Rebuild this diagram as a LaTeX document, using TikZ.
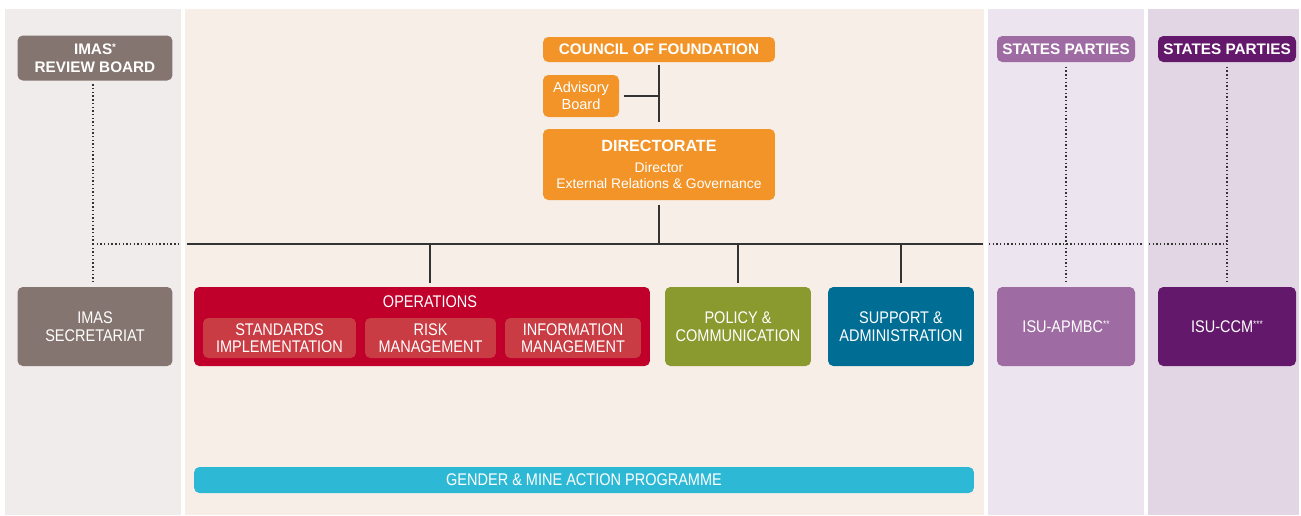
\documentclass[tikz,border=0pt]{standalone}
\usepackage{fontspec}
\setmainfont{Liberation Sans}
\newfontfamily\condfont{Liberation Sans}[FakeStretch=0.86]
\definecolor{panelgrey}{HTML}{F0ECEB}
\definecolor{panelpeach}{HTML}{F7EEE8}
\definecolor{panellilac}{HTML}{ECE4EF}
\definecolor{panelplum}{HTML}{E2D6E5}
\definecolor{imasgrey}{HTML}{857570}
\definecolor{gicorange}{HTML}{F29428}
\definecolor{opsred}{HTML}{C0002A}
\definecolor{opssub}{HTML}{C93C43}
\definecolor{polgreen}{HTML}{8A9A2F}
\definecolor{supblue}{HTML}{006D95}
\definecolor{apmbc}{HTML}{9E6BA3}
\definecolor{ccm}{HTML}{64186B}
\definecolor{gendercyan}{HTML}{2DB9D5}
\definecolor{lnk}{HTML}{333333}
\newcommand{\sups}[1]{\raisebox{2.5pt}{\fontsize{5.5}{5.5}\selectfont #1}}
\begin{document}
\begin{tikzpicture}[x=0.02cm,y=-0.02cm,
    box/.style={rounded corners=3pt, text=white, align=center, inner sep=0pt},
    headbox/.style={box, font=\bfseries\fontsize{8.7}{9.8}\selectfont},
    unitbox/.style={box, font=\condfont\fontsize{9.6}{10.4}\selectfont, minimum height=1.58cm},
    subbox/.style={box, fill=opssub, font=\condfont\fontsize{9.6}{9.8}\selectfont, minimum height=0.8cm},
    conn/.style={draw=lnk, line width=0.6pt},
    dotconn/.style={draw=lnk, line width=0.8pt, dash pattern=on 0.8pt off 1.3pt}]
  \useasboundingbox (0,0) rectangle (1301,515);
  \fill[panelgrey] (5,9) rectangle (181,515);
  \fill[panelpeach] (185,9) rectangle (984,515);
  \fill[panellilac] (988,9) rectangle (1144,515);
  \fill[panelplum] (1148,9) rectangle (1299,515);

  \node[headbox, fill=imasgrey, minimum width=3.1cm, minimum height=0.9cm] (reviewboard) at (95,58) {IMAS\sups{*}\\REVIEW BOARD};
  \node[headbox, fill=gicorange, minimum width=4.64cm, minimum height=0.5cm] (council) at (659,49.5) {COUNCIL OF FOUNDATION};
  \node[box, fill=gicorange, font=\fontsize{8.3}{9.4}\selectfont, minimum width=1.52cm, minimum height=0.84cm] (advisory) at (581,96) {Advisory\\Board};
  \node[box, fill=gicorange, font=\fontsize{7.9}{9.2}\selectfont, minimum width=4.64cm, minimum height=1.42cm] (directorate) at (659,164.5)
    {{\bfseries\fontsize{9.2}{11}\selectfont DIRECTORATE}\\[3pt]Director\\External Relations \& Governance};
  \node[headbox, fill=apmbc, minimum width=2.76cm, minimum height=0.52cm] (statesA) at (1066,49) {STATES PARTIES};
  \node[headbox, fill=ccm, minimum width=2.76cm, minimum height=0.52cm] (statesB) at (1227,49) {STATES PARTIES};

  \node[unitbox, fill=imasgrey, minimum width=3.1cm] (secretariat) at (95,326.5) {IMAS\\SECRETARIAT};
  \node[box, fill=opsred, minimum width=9.12cm, minimum height=1.58cm] (ops) at (422,326.5) {};
  \node[box, font=\condfont\fontsize{9.6}{10}\selectfont] (opstitle) at (430,302) {OPERATIONS};
  \node[subbox, minimum width=3.06cm] (standards) at (279.5,338) {STANDARDS\\IMPLEMENTATION};
  \node[subbox, minimum width=2.62cm] (risk) at (430.5,338) {RISK\\MANAGEMENT};
  \node[subbox, minimum width=2.72cm] (information) at (573,338) {INFORMATION\\MANAGEMENT};
  \node[unitbox, fill=polgreen, minimum width=2.92cm] (policy) at (738,326.5) {POLICY \&\\COMMUNICATION};
  \node[unitbox, fill=supblue, minimum width=2.92cm] (support) at (901,326.5) {SUPPORT \&\\ADMINISTRATION};
  \node[unitbox, fill=apmbc, minimum width=2.76cm] (isuA) at (1066,326.5) {ISU-APMBC\sups{**}};
  \node[unitbox, fill=ccm, minimum width=2.76cm] (isuB) at (1227,326.5) {ISU-CCM\sups{***}};
  \node[box, fill=gendercyan, font=\condfont\fontsize{9.6}{10}\selectfont, minimum width=15.6cm, minimum height=0.52cm] (gender) at (584,480) {GENDER \& MINE ACTION PROGRAMME};

  \coordinate (busL) at (187,244);
  \coordinate (busR) at (983,244);
  \coordinate (gapL) at (181,244);
  \coordinate (gapA) at (989,244);
  \coordinate (gapB) at (1143,244);
  \coordinate (gapC) at (1149,244);
  \coordinate (imasdots) at (93,244);

  \draw[conn, shorten <=1.5pt, shorten >=4pt] (council) -- (directorate);
  \draw[conn, shorten <=2.5pt] (advisory.east) -- (advisory.east -| council.south);
  \draw[conn] (busL) -- (busR);
  \draw[conn, shorten <=2.5pt] (directorate.south) -- (directorate.south |- busL);
  \draw[conn, shorten >=2.3pt] (opstitle |- busL) -- (opstitle |- ops.north);
  \draw[conn, shorten >=2.3pt] (policy.north |- busL) -- (policy.north);
  \draw[conn, shorten >=2.3pt] (support.north |- busL) -- (support.north);

  \draw[dotconn, shorten <=2pt] (imasdots |- reviewboard.south) -- (imasdots);
  \draw[dotconn, shorten >=2.3pt] (imasdots) -- (imasdots |- secretariat.north);
  \draw[dotconn] (imasdots) -- (gapL);
  \draw[dotconn, shorten <=2.5pt, shorten >=2.3pt] (statesA.south) -- (isuA.north);
  \draw[dotconn, shorten <=2.5pt, shorten >=2.3pt] (statesB.south) -- (isuB.north);
  \draw[dotconn] (gapA) -- (gapB);
  \draw[dotconn] (gapC) -- (statesB.south |- busL);
\end{tikzpicture}
\end{document}
